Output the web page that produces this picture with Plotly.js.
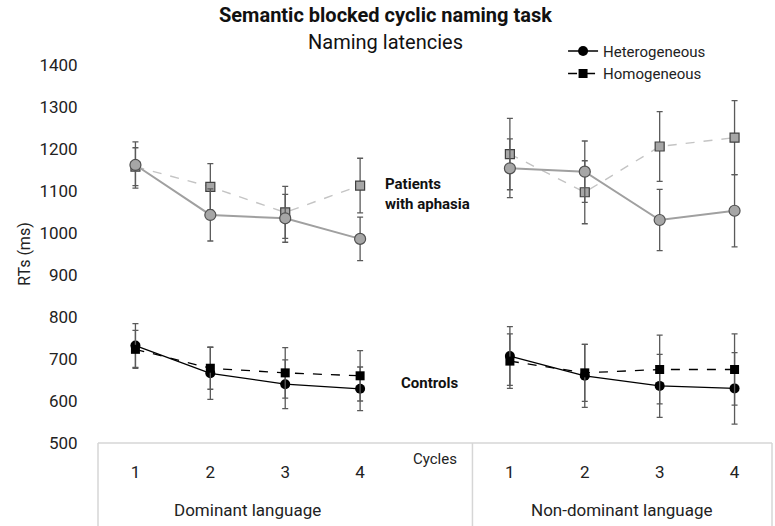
<!DOCTYPE html>
<html>
<head>
<meta charset="utf-8">
<script src="https://cdn.plot.ly/plotly-3.0.1.min.js"></script>
<style>html,body{margin:0;padding:0;background:#fff;}#chart{width:775px;height:526px;}</style>
</head>
<body>
<div id="chart"></div>
<script>
// ---- data ----
var cycles = ['1', '2', '3', '4'];
var languages = ['Dominant language', 'Non-dominant language'];

var patHetDom = [1162, 1043, 1035, 986];
var patHetDomErr = [55, 62, 57, 52];
var patHomDom = [1158, 1110, 1049, 1113];
var patHomDomErr = [45, 55, 62, 65];
var patHetNon = [1154, 1146, 1031, 1053];
var patHetNonErr = [70, 73, 73, 86];
var patHomNon = [1188, 1097, 1206, 1227];
var patHomNonErr = [85, 75, 83, 88];

var ctlHetDom = [732, 666, 640, 629];
var ctlHetDomErr = [52, 62, 58, 52];
var ctlHomDom = [723, 678, 667, 660];
var ctlHomDomErr = [45, 50, 60, 60];
var ctlHetNon = [707, 660, 636, 630];
var ctlHetNonErr = [70, 75, 75, 85];
var ctlHomNon = [695, 667, 675, 675];
var ctlHomNonErr = [65, 68, 82, 85];

// positions: panel 1 -> 1..4, gap at 5 ("Cycles"), panel 2 -> 6..9
var xs = [];
var tickvals = [], ticktext = [];
cycles.forEach(function (c, i) { xs.push(i + 1); tickvals.push(i + 1); ticktext.push(c); });
xs.push(cycles.length + 1);
cycles.forEach(function (c, i) { xs.push(cycles.length + 2 + i); tickvals.push(cycles.length + 2 + i); ticktext.push(c); });

function joinArr(a, b) { return a.concat([null]).concat(b); }

var font = 'Roboto, "DejaVu Sans", sans-serif';
var errColor = '#5a5a5a';

function mk(name, y, err, opts) {
  return {
    type: 'scatter', mode: 'lines+markers', name: name,
    x: xs, y: y, connectgaps: false,
    error_y: { type: 'data', array: err, visible: true, color: errColor, thickness: 1.3, width: 3 },
    line: opts.line, marker: opts.marker, showlegend: opts.showlegend, cliponaxis: false
  };
}

var traces = [
  mk('Homogeneous', joinArr(patHomDom, patHomNon), joinArr(patHomDomErr, patHomNonErr), {
    line: { color: '#c4c4c4', width: 1.4, dash: 'dash' },
    marker: { symbol: 'square', size: 9, color: '#a6a6a6', line: { color: '#404040', width: 1.2 } }, showlegend: false }),
  mk('Heterogeneous', joinArr(patHetDom, patHetNon), joinArr(patHetDomErr, patHetNonErr), {
    line: { color: '#a0a0a0', width: 2 },
    marker: { symbol: 'circle', size: 11, color: '#a6a6a6', line: { color: '#505050', width: 1.2 } }, showlegend: false }),
  mk('Heterogeneous', joinArr(ctlHetDom, ctlHetNon), joinArr(ctlHetDomErr, ctlHetNonErr), {
    line: { color: '#000', width: 1.3 },
    marker: { symbol: 'circle', size: 10, color: '#000' }, showlegend: true }),
  mk('Homogeneous', joinArr(ctlHomDom, ctlHomNon), joinArr(ctlHomDomErr, ctlHomNonErr), {
    line: { color: '#000', width: 1.3, dash: 'dash' },
    marker: { symbol: 'square', size: 9, color: '#000' }, showlegend: true })
];

var xr = [0.5, xs.length + 0.5];
var divX = (cycles.length + 1.5 - xr[0]) / (xr[1] - xr[0]);
var boxBottom = -83 / 378;
var boxLine = { color: '#d6d6d6', width: 1.5 };

var layout = {
  width: 775, height: 526,
  margin: { l: 98, r: 3, t: 65, b: 83 },
  paper_bgcolor: '#fff', plot_bgcolor: '#fff',
  font: { family: font, color: '#222' },
  showlegend: true,
  legend: { x: 0.69, y: 1.08, xanchor: 'left', yanchor: 'top', font: { size: 15, family: font, color: '#222' },
            bgcolor: 'rgba(0,0,0,0)', tracegroupgap: 2, itemwidth: 30 },
  xaxis: { range: xr, tickvals: tickvals, ticktext: ticktext, showgrid: false, zeroline: false, showline: false,
           ticks: 'outside', ticklen: 14, tickcolor: 'rgba(0,0,0,0)', tickfont: { size: 17, family: font, color: '#222' } },
  yaxis: { range: [500, 1400], dtick: 100, showgrid: false, zeroline: false, showline: false,
           ticks: 'outside', ticklen: 16, tickcolor: 'rgba(0,0,0,0)', tickfont: { size: 17, family: font, color: '#222' },
           title: { text: 'RTs (ms)', font: { size: 16, family: font, color: '#222' }, standoff: 4 } },
  shapes: [
    { type: 'line', xref: 'paper', yref: 'paper', x0: 0, x1: 1, y0: 0, y1: 0, line: boxLine },
    { type: 'line', xref: 'paper', yref: 'paper', x0: 0, x1: 0, y0: 0, y1: boxBottom, line: boxLine },
    { type: 'line', xref: 'paper', yref: 'paper', x0: divX, x1: divX, y0: 0, y1: boxBottom, line: boxLine },
    { type: 'line', xref: 'paper', yref: 'paper', x0: 1, x1: 1, y0: 0, y1: boxBottom, line: boxLine }
  ],
  annotations: [
    { xref: 'paper', yref: 'paper', x: (385 - 98) / 674, y: 1 + 50 / 378, xanchor: 'center', yanchor: 'middle', showarrow: false,
      text: '<b>Semantic blocked cyclic naming task</b>', font: { size: 20, family: font, color: '#111' } },
    { xref: 'paper', yref: 'paper', x: (385 - 98) / 674, y: 1 + 23 / 378, xanchor: 'center', yanchor: 'middle', showarrow: false,
      text: 'Naming latencies', font: { size: 20, family: font, color: '#111' } },
    { xref: 'x', yref: 'paper', x: cycles.length + 1, y: -16 / 378, xanchor: 'center', yanchor: 'middle', showarrow: false,
      text: 'Cycles', font: { size: 15, family: font, color: '#222' } },
    { xref: 'x', yref: 'paper', x: (1 + cycles.length) / 2, y: -67 / 378, xanchor: 'center', yanchor: 'middle', showarrow: false,
      text: languages[0], font: { size: 17, family: font, color: '#222' } },
    { xref: 'x', yref: 'paper', x: cycles.length + 1 + (1 + cycles.length) / 2, y: -67 / 378, xanchor: 'center', yanchor: 'middle', showarrow: false,
      text: languages[1], font: { size: 17, family: font, color: '#222' } },
    { xref: 'x', yref: 'y', x: 4.9, y: 1093, xanchor: 'center', yanchor: 'middle', showarrow: false, align: 'left',
      text: '<b>Patients<br>with aphasia</b>', font: { size: 15, family: font, color: '#111' } },
    { xref: 'x', yref: 'y', x: 4.93, y: 643, xanchor: 'center', yanchor: 'middle', showarrow: false,
      text: '<b>Controls</b>', font: { size: 15, family: font, color: '#111' } }
  ]
};

Plotly.newPlot('chart', traces, layout, { displayModeBar: false, staticPlot: true });
</script>
</body>
</html>
